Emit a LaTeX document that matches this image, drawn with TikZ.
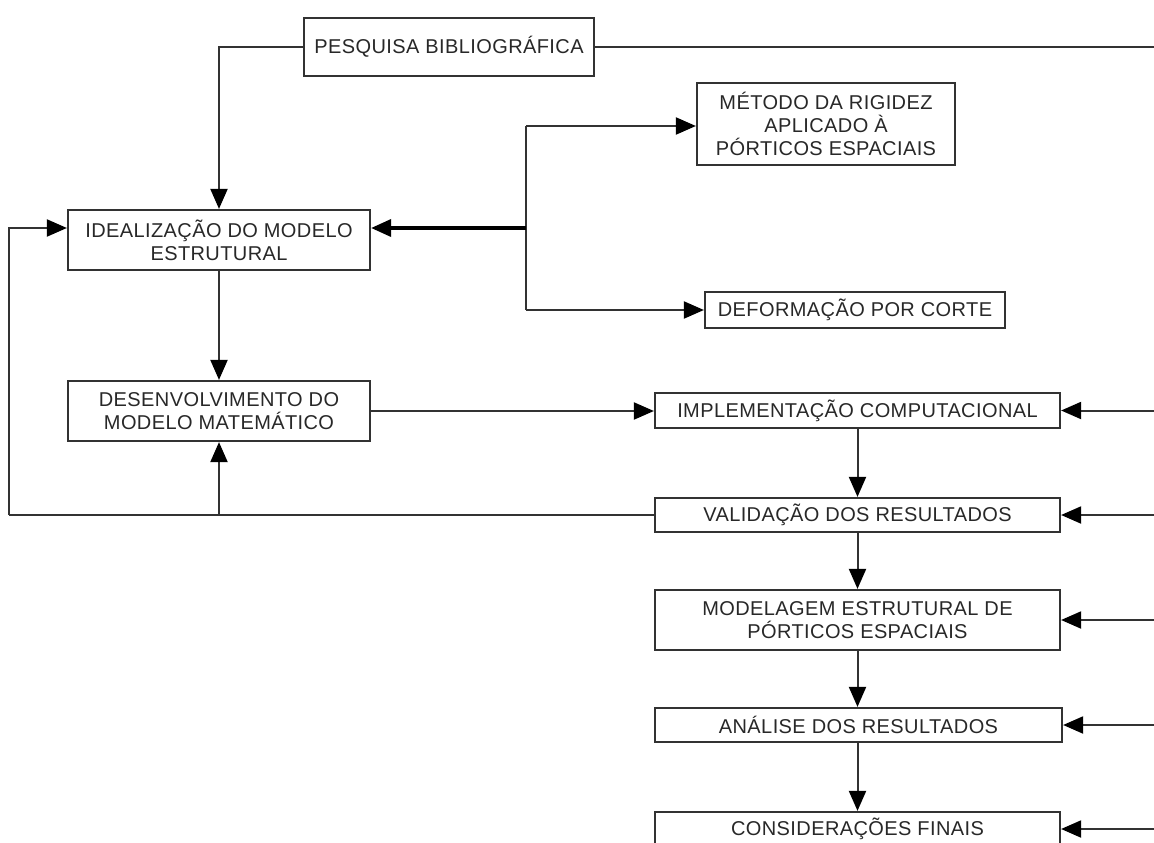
\documentclass[tikz,border=0pt]{standalone}
\usepackage{fontspec}
\setmainfont{Liberation Sans}[LetterSpace=2]
\usetikzlibrary{arrows.meta}
\definecolor{ln}{RGB}{50,50,50}
\definecolor{tx}{RGB}{40,40,40}
\tikzset{
  box/.style={draw=ln, line width=2.2pt, inner sep=0pt, align=center, text=tx,
    font=\fontsize{20}{23}\selectfont},
  wire/.style={draw=ln, line width=2pt},
  arr/.style={wire, -{Triangle[length=20pt,width=17pt,fill=black,color=black]}},
  thickarr/.style={draw=black, line width=3.5pt, -{Triangle[length=20pt,width=17pt]}},
}
\begin{document}
\begin{tikzpicture}[x=1pt,y=-1pt]
\useasboundingbox (0,0) rectangle (1154,843);
\clip (0,0) rectangle (1154,843);
\fill[white] (0,0) rectangle (1154,843);
% boxes
\node[box, minimum width=290pt, minimum height=58pt] (pesq) at (449,47) {PESQUISA BIBLIOGRÁFICA};
\node[box, minimum width=302pt, minimum height=60pt] (ideal) at (219,240) {IDEALIZAÇÃO DO MODELO\\ESTRUTURAL};
\node[box, minimum width=258pt, minimum height=82pt] (metodo) at (826,124) {MÉTODO DA RIGIDEZ\\APLICADO À\\PÓRTICOS ESPACIAIS};
\node[box, minimum width=300pt, minimum height=36pt] (deform) at (855,310) {DEFORMAÇÃO POR CORTE};
\node[box, minimum width=302pt, minimum height=60pt] (desenv) at (219,411) {DESENVOLVIMENTO DO\\MODELO MATEMÁTICO};
\node[box, minimum width=405pt, minimum height=35pt] (impl) at (857.5,410.5) {IMPLEMENTAÇÃO COMPUTACIONAL};
\node[box, minimum width=405pt, minimum height=34pt] (valid) at (857.5,515) {VALIDAÇÃO DOS RESULTADOS};
\node[box, minimum width=405pt, minimum height=60pt] (model) at (857.5,620) {MODELAGEM ESTRUTURAL DE\\PÓRTICOS ESPACIAIS};
\node[box, minimum width=407pt, minimum height=34pt] (anal) at (858.5,725) {ANÁLISE DOS RESULTADOS};
\node[box, minimum width=405pt, minimum height=34pt] (consid) at (857.5,829) {CONSIDERAÇÕES FINAIS};
% coordinates
\coordinate (j) at (526,228);
\coordinate (jt) at (526,126);
\coordinate (jb) at (526,310);
\coordinate (pr) at (1154,47);
\coordinate (fb) at (9,515);
\coordinate (r1) at (1154,410.5);
\coordinate (r2) at (1154,515);
\coordinate (r3) at (1154,620);
\coordinate (r4) at (1154,725);
\coordinate (r5) at (1154,829);
% connectors
\draw[arr] (pesq.west) -| (ideal.north);
\draw[wire] (pesq.east) -- (pr);
\draw[wire] (jt) -- (jb);
\draw[arr] (jt) -- (metodo.west |- jt);
\draw[arr] (jb) -- (deform.west |- jb);
\draw[thickarr] (j) -- (ideal.east |- j);
\draw[arr] (ideal.south) -- (desenv.north);
\draw[arr] (desenv.east) -- (impl.west |- desenv.east);
\draw[arr] (impl.south) -- (valid.north);
\draw[arr] (valid.south) -- (model.north);
\draw[arr] (model.south) -- (anal.north -| model.south);
\draw[arr] (anal.south -| model.south) -- (consid.north);
\draw[wire] (valid.west) -- (fb);
\draw[arr] (fb) |- (ideal.west |- j);
\draw[arr] (desenv.south |- fb) -- (desenv.south);
\draw[arr] (r1) -- (impl.east);
\draw[arr] (r2) -- (valid.east);
\draw[arr] (r3) -- (model.east);
\draw[arr] (r4) -- (anal.east);
\draw[arr] (r5) -- (consid.east);
\end{tikzpicture}
\end{document}
